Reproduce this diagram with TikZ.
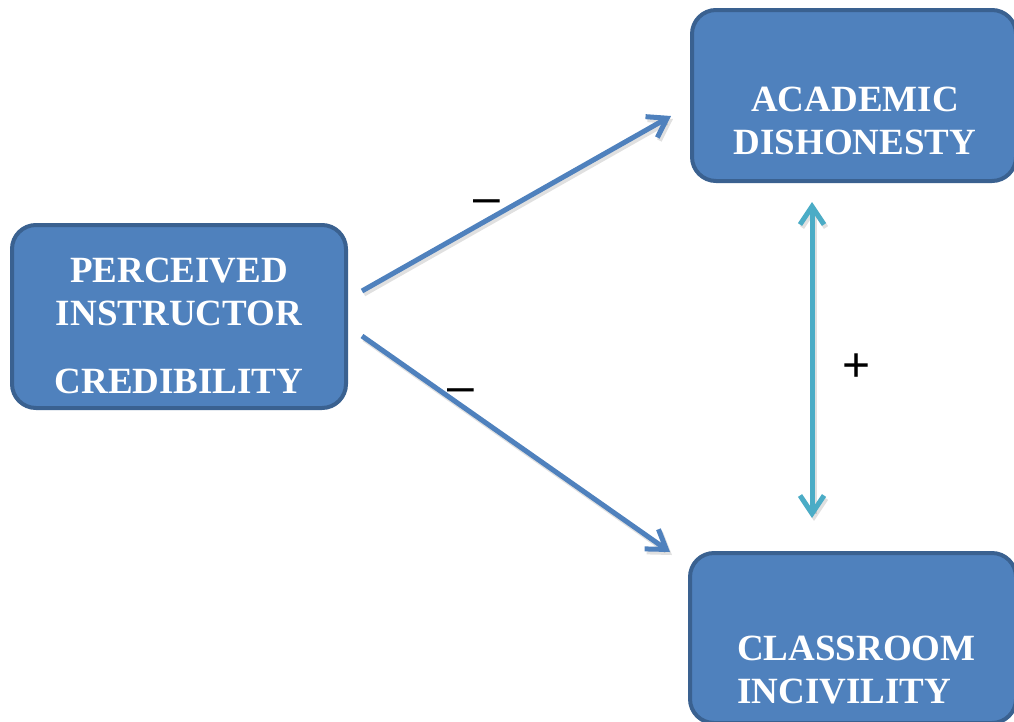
\documentclass[tikz,border=0pt]{standalone}
\usepackage{fontspec}
\setmainfont{Liberation Serif}
\newfontfamily\signfont{Liberation Sans}
\usetikzlibrary{arrows.meta}
\definecolor{boxfill}{HTML}{4F81BD}
\definecolor{boxline}{HTML}{3A6190}
\definecolor{arrblue}{HTML}{4F81BD}
\definecolor{arrteal}{HTML}{4BACC6}
\tikzset{
  varbox/.style={draw=boxline, line width=4pt, fill=boxfill, rounded corners=24pt, inner sep=0pt},
  boxtext/.style={text=white, font=\fontsize{37}{43}\selectfont\bfseries, inner sep=0pt, anchor=base},
  conn/.style={line width=5pt, -{Straight Barb[length=18pt,width=24pt]}},
  twoway/.style={line width=5pt, {Straight Barb[length=18pt,width=24pt]}-{Straight Barb[length=18pt,width=24pt]}},
  shadowc/.style={draw=black, opacity=0.12},
  sign/.style={text=black, inner sep=0pt, font=\signfont\fontsize{48}{48}\selectfont}
}
\begin{document}
\begin{tikzpicture}[x=1pt,y=-1pt]
\useasboundingbox (0,0) rectangle (1014,721);
% boxes
\node[varbox, minimum width=334pt, minimum height=183pt] (pic) at (179,316.5) {};
\node[varbox, minimum width=324pt, minimum height=171pt] (ad) at (854,95.5) {};
\node[varbox, minimum width=326pt, minimum height=170pt] (ci) at (853,638) {};
% texts
\node[boxtext] (t1) at (179,282) {PERCEIVED};
\node[boxtext] (t2) at (179,325) {INSTRUCTOR};
\node[boxtext] (t3) at (179,393) {CREDIBILITY};
\node[boxtext] (t4) at (855,111) {ACADEMIC};
\node[boxtext] (t5) at (855,154) {DISHONESTY};
\node[boxtext, anchor=base west] (t6) at (737,660) {CLASSROOM};
\node[boxtext, anchor=base west] (t7) at (737,703) {INCIVILITY};
% connector endpoints
\coordinate (a1s) at (362,291);
\coordinate (a1e) at (671,116);
\coordinate (a2s) at (362,336);
\coordinate (a2e) at (670,552);
\coordinate (v1) at (812,202);
\coordinate (v2) at (812,518);
% shadows
\draw[conn, shadowc] ([shift={(2,3)}]a1s) -- ([shift={(2,3)}]a1e);
\draw[conn, shadowc] ([shift={(2,3)}]a2s) -- ([shift={(2,3)}]a2e);
\draw[twoway, shadowc] ([shift={(2,3)}]v1) -- ([shift={(2,3)}]v2);
% connectors
\draw[conn, draw=arrblue] (a1s) -- (a1e);
\draw[conn, draw=arrblue] (a2s) -- (a2e);
\draw[twoway, draw=arrteal] (v1) -- (v2);
% signs
\node[sign] (m1) at (487,207) {–};
\node[sign] (m2) at (461,396) {–};
\node[sign] (p1) at (857,368) {+};
\end{tikzpicture}
\end{document}
